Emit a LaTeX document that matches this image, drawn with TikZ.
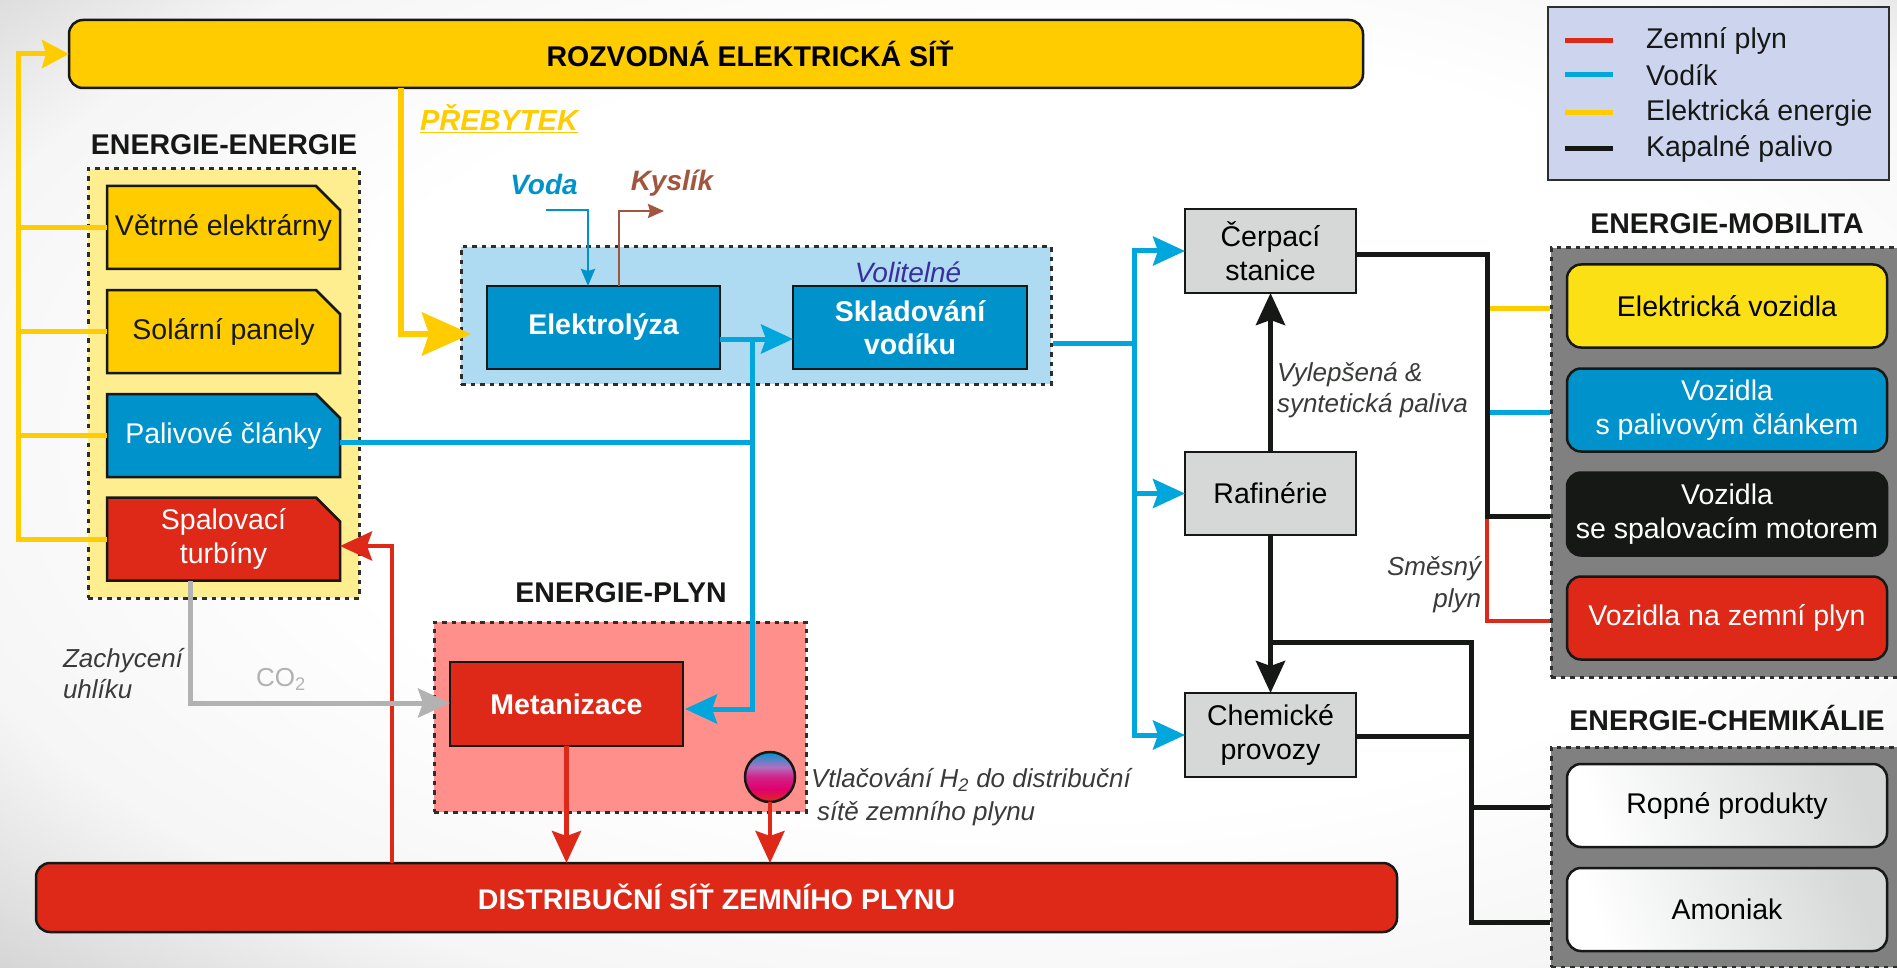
\documentclass[tikz,border=0pt]{standalone}
\usepackage{fontspec}
\setmainfont{Liberation Sans}
\usetikzlibrary{arrows.meta,shapes.misc,calc}
\definecolor{ylw}{HTML}{FFCC00}
\definecolor{ylwpanel}{HTML}{FFEE90}
\definecolor{blu}{HTML}{0093CB}
\definecolor{blupanel}{HTML}{AEDAF2}
\definecolor{bline}{HTML}{00A6DC}
\definecolor{rd}{HTML}{DE2918}
\definecolor{pinkpanel}{HTML}{FF8F8B}
\definecolor{gb}{HTML}{D6D8D8}
\definecolor{ev}{HTML}{FAE014}
\definecolor{blk}{HTML}{161816}
\definecolor{legendbg}{HTML}{CDD5EE}
\definecolor{oxy}{HTML}{A0563F}
\definecolor{vol}{HTML}{3A2E9C}
\definecolor{co}{HTML}{B2B2B2}
\definecolor{bgedge}{HTML}{C0C0C0}
\definecolor{ballblue}{HTML}{0093CB}
\definecolor{ballpurple}{HTML}{B070C0}
\definecolor{ballmag}{HTML}{E0006E}
\definecolor{ballred}{HTML}{E02A1A}
\pgfdeclareradialshading{bgshade}{\pgfpoint{5bp}{5bp}}{%
  color(0bp)=(white); color(20bp)=(white); color(30bp)=(white!85!bgedge); color(42bp)=(bgedge); color(50bp)=(bgedge)}
\pgfdeclareverticalshading{ballshade}{100bp}{%
  color(0bp)=(ballred); color(25bp)=(ballred); color(38bp)=(ballmag); color(50bp)=(ballmag!70!ballpurple); color(60bp)=(ballpurple); color(75bp)=(ballblue); color(100bp)=(ballblue)}
\newcommand\fsz{\fontsize{28.5}{33.5}\selectfont}
\newcommand\fit{\fontsize{26}{31}\selectfont\itshape}
\newcommand\cutstrut{\rule{175pt}{0pt}\rule{0pt}{20pt}}
\tikzset{
  nb/.style={inner sep=0pt,outer sep=0pt,align=center,font=\fsz},
  bx/.style={nb,rectangle,draw=blk,line width=2.5pt},
  cut/.style={bx,chamfered rectangle,chamfered rectangle corners=north east,
    chamfered rectangle xsep=13pt,chamfered rectangle ysep=14pt,
    minimum width=233pt,minimum height=83pt},
  cutlab/.style={nb,text=#1},
  rbx/.style={bx,rounded corners=14pt,minimum width=320pt,minimum height=83pt},
  panel/.style={rectangle,draw=blk!90,line width=3pt,dash pattern=on 4.5pt off 5pt,inner sep=0pt},
  head/.style={nb,font=\fsz\bfseries,text=blk},
  lab/.style={inner sep=0pt,outer sep=0pt,font=\fit,text=blk!85,align=left},
  ln/.style={line width=#1,line join=miter},
  tipb/.style={-{Stealth[length=32pt,width=29pt,inset=5pt]}},
}
\begin{document}
\begin{tikzpicture}[x=1pt,y=-1pt]
\useasboundingbox (0,0) rectangle (1897,968);
\clip (0,0) rectangle (1897,968);
\shade[shading=bgshade] (0,0) rectangle (1897,968);

% panels
\node[panel,fill=ylwpanel,minimum width=271pt,minimum height=429pt] (pE) at (223.5,383.5) {};
\node[panel,fill=blupanel,minimum width=590pt,minimum height=137pt] (pH) at (756,315.5) {};
\node[panel,fill=pinkpanel,minimum width=372pt,minimum height=190pt] (pG) at (620,717) {};
\node[panel,fill=black!50,minimum width=370pt,minimum height=429pt] (pM) at (1736,462.5) {};
\node[panel,fill=black!50,minimum width=370pt,minimum height=220pt] (pC) at (1736,857) {};

% group titles
\node[head] (tE) at (224,145) {ENERGIE-ENERGIE};
\node[head] (tG) at (621,593) {ENERGIE-PLYN};
\node[head] (tM) at (1727,224) {ENERGIE-MOBILITA};
\node[head] (tC) at (1727,718) {ENERGIE-CHEMIKÁLIE};

% bars
\node[bx,fill=ylw,rounded corners=14pt,minimum width=1294pt,minimum height=68pt,font=\fsz\bfseries] (grid) at (716,54) {\raisebox{-1.5pt}{\hspace*{68pt}ROZVODNÁ ELEKTRICKÁ SÍŤ}};
\node[bx,fill=rd,rounded corners=14pt,minimum width=1361pt,minimum height=69pt,font=\fsz\bfseries,text=white] (gasnet) at (716.5,897.5) {\raisebox{2pt}{DISTRIBUČNÍ SÍŤ ZEMNÍHO PLYNU}};

% energy sources
\node[cut,fill=ylw,label={[cutlab=blk]center:{Větrné elektrárny}}] (wind) at (223.5,227.5) {\cutstrut};
\node[cut,fill=ylw,label={[cutlab=blk]center:{Solární panely}}] (solar) at (223.5,331.5) {\cutstrut};
\node[cut,fill=blu,label={[cutlab=white]center:{Palivové články}}] (fc) at (223.5,435.5) {\cutstrut};
\node[cut,fill=rd,label={[cutlab=white]center:{Spalovací\\turbíny}}] (turb) at (223.5,539) {\cutstrut};

% hydrogen
\node[bx,fill=blu,text=white,font=\fsz\bfseries,minimum width=233pt,minimum height=83pt] (elek) at (603.5,327.5) {Elektrolýza};
\node[bx,fill=blu,text=white,font=\fsz\bfseries,minimum width=234pt,minimum height=83pt] (stor) at (910,327.5) {Skladování\\vodíku};
\node[bx,fill=rd,text=white,font=\fsz\bfseries,minimum width=233pt,minimum height=84pt] (meth) at (566.5,704) {Metanizace};
\node[circle,draw=blk,line width=2.5pt,shading=ballshade,minimum size=50pt,inner sep=0pt,outer sep=0pt] (ball) at (770,777) {};

% refining column
\node[bx,fill=gb,minimum width=171pt,minimum height=84pt] (cerp) at (1270.5,251) {Čerpací\\stanice};
\node[bx,fill=gb,minimum width=171pt,minimum height=83pt] (raf) at (1270.5,493.5) {Rafinérie};
\node[bx,fill=gb,minimum width=171pt,minimum height=84pt] (chem) at (1270.5,735) {Chemické\\provozy};

% mobility
\node[rbx,fill=ev] (v1) at (1727,306) {Elektrická vozidla};
\node[rbx,fill=blu,text=white] (v2) at (1727,410) {Vozidla\\s palivovým článkem};
\node[rbx,fill=blk,text=white] (v3) at (1727,514) {Vozidla\\se spalovacím motorem};
\node[rbx,fill=rd,text=white] (v4) at (1727,618) {Vozidla na zemní plyn};
% chemicals
\node[rbx,left color=white,right color=gb,shading angle=110] (c1) at (1727,805.5) {Ropné produkty};
\node[rbx,left color=white,right color=gb,shading angle=110] (c2) at (1727,909.5) {Amoniak};

% coordinates
\coordinate (yl) at (18,54);
\coordinate (sx) at (401,334);
\coordinate (sxe) at (471,334);
\coordinate (vs) at (546,210);
\coordinate (vk) at (588,210);
\coordinate (kk) at (619,211);
\coordinate (ke) at (664,211);
\coordinate (hj) at (752,339);
\coordinate (hb) at (752,709);
\coordinate (he) at (685,709);
\coordinate (oj) at (1134,343);
\coordinate (rj) at (392,546);
\coordinate (co1) at (190,703);
\coordinate (bj) at (1487,255);
\coordinate (bk) at (1487,516);
\coordinate (rk) at (1487,621);
\coordinate (j1) at (1471,642);
\coordinate (j2) at (1471,736);
\coordinate (j3) at (1471,807);
\coordinate (j4) at (1471,922);

% electricity
\begin{scope}[ln=5pt,draw=ylw]
  \draw[-{Stealth[length=27pt,width=28pt,inset=4pt]}] (turb.west) -- (yl |- turb.west) -- (yl) -- (grid.west);
  \draw (wind.west) -- (yl |- wind.west);
  \draw (solar.west) -- (yl |- solar.west);
  \draw (fc.west) -- (yl |- fc.west);
  \draw (bj |- v1.west) ++(0,2) -- (pM.west |- 0,308);
\end{scope}
\draw[ln=6.5pt,draw=ylw,-{Stealth[length=49pt,width=43pt,inset=7pt]}] (sx |- grid.south) -- (sx) -- (sxe);

% water & oxygen
\draw[ln=2.5pt,draw=blu,-{Stealth[length=17pt,width=14pt,inset=2pt]}] (vs) -- (vk) -- (vk |- elek.north);
\draw[ln=2.5pt,draw=oxy,-{Stealth[length=16pt,width=14pt,inset=2pt]}] (kk |- elek.north) -- (kk) -- (ke);

% hydrogen lines
\begin{scope}[ln=5pt,draw=bline]
  \draw[tipb] (elek.east |- hj) -- (stor.west |- hj);
  \draw[tipb] (hj) -- (hb) -- (he);
  \draw (fc.east |- 0,442) -- (hj |- 0,442);
  \draw (pH.east |- oj) -- (oj);
  \draw[tipb] (oj) -- (oj |- cerp.west) -- (cerp.west);
  \draw[tipb] (oj) -- (oj |- raf.west) -- (raf.west);
  \draw[tipb] (oj) -- (oj |- chem.west) -- (chem.west);
  \draw (bj |- 0,412) -- (pM.west |- 0,412);
\end{scope}

% natural gas
\begin{scope}[ln=4.5pt,draw=rd]
  \draw[tipb] (rj |- gasnet.north) -- (rj) -- (turb.east |- rj);
  \draw[tipb] (meth.south) -- (meth.south |- gasnet.north);
  \draw[tipb] (ball.south) -- (ball.south |- gasnet.north);
  \draw (bk) -- (rk) -- (pM.west |- rk);
\end{scope}

% CO2
\draw[ln=5pt,draw=co,tipb] (co1 |- turb.south) -- (co1) -- (meth.west |- co1);

% liquid fuel
\begin{scope}[ln=5pt,draw=blk]
  \draw[tipb] (raf.north) -- (cerp.south);
  \draw[tipb] (raf.south) -- (chem.north);
  \draw (raf.south |- j1) -- (j1) -- (j4) -- (pC.west |- j4);
  \draw (chem.east |- j2) -- (j2);
  \draw (j3) -- (pC.west |- j3);
  \draw (cerp.east |- bj) -- (bj) -- (bk) -- (pM.west |- bk);
\end{scope}

% labels
\node[nb,font=\fontsize{29}{34}\selectfont\bfseries\itshape,text=ylw] (prebytek) at (499,119) {\underline{PŘEBYTEK}};
\node[nb,font=\fontsize{28}{33}\selectfont\bfseries\itshape,text=blu] (voda) at (544,184) {Voda};
\node[nb,font=\fontsize{28}{33}\selectfont\bfseries\itshape,text=oxy] (kyslik) at (672,183) {Kyslík};
\node[nb,font=\fontsize{28}{33}\selectfont\itshape,text=vol] (volit) at (908,272) {Volitelné};
\node[lab,anchor=north west] (zach) at (63,648) {Zachycení\\uhlíku};
\node[nb,font=\fontsize{26}{31}\selectfont,text=co] (co2) at (281,679) {CO\textsubscript{2}};
\node[lab,anchor=west] (inj1) at (811,780) {Vtlačování H\textsubscript{2} do distribuční};
\node[lab,anchor=west] (inj2) at (817,814) {sítě zemního plynu};
\node[lab,anchor=west] (vyl1) at (1277,375) {Vylepšená \&};
\node[lab,anchor=west] (vyl2) at (1277,406) {syntetická paliva};
\node[lab,anchor=east] (sm1) at (1481,569) {Směsný};
\node[lab,anchor=east] (sm2) at (1481,601) {plyn};

% legend
\node[rectangle,draw=blk!90,line width=2.5pt,fill=legendbg,minimum width=341pt,minimum height=173pt,inner sep=0pt] (legend) at (1718.5,93.5) {};
\draw[line width=5pt,draw=rd] (1565,41) -- (1613,41);
\draw[line width=5pt,draw=bline] (1565,75) -- (1613,75);
\draw[line width=5pt,draw=ylw] (1565,113) -- (1613,113);
\draw[line width=5pt,draw=blk] (1565,149) -- (1613,149);
\node[nb,anchor=west,text=blk] (lg1) at (1646,41) {Zemní plyn};
\node[nb,anchor=west,text=blk] (lg2) at (1646,75) {Vodík};
\node[nb,anchor=west,text=blk] (lg3) at (1646,113) {Elektrická energie};
\node[nb,anchor=west,text=blk] (lg4) at (1646,149) {Kapalné palivo};
\end{tikzpicture}
\end{document}
